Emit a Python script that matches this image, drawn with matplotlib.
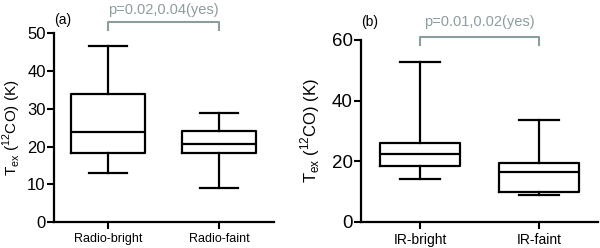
import matplotlib
matplotlib.use("Agg")
import matplotlib.pyplot as plt

plt.rcParams['font.family'] = ['Liberation Sans', 'DejaVu Sans']

# Panel (a)
cats_a = ["Radio-bright", "Radio-faint"]
whislo_a = [12.9, 9.0]
q1_a = [18.4, 18.4]
med_a = [23.8, 20.7]
q3_a = [33.9, 24.1]
whishi_a = [46.6, 29.0]
ptext_a = "p=0.02,0.04(yes)"

# Panel (b)
cats_b = ["IR-bright", "IR-faint"]
whislo_b = [14.2, 8.9]
q1_b = [18.5, 9.8]
med_b = [22.2, 16.4]
q3_b = [26.1, 19.5]
whishi_b = [52.9, 33.5]
ptext_b = "p=0.01,0.02(yes)"

W, H = 600, 248
fig = plt.figure(figsize=(W / 100, H / 100), dpi=100)
grey = "#8c9da0"


def make_stats(cats, lo, q1, med, q3, hi):
    return [dict(label=c, whislo=a, q1=b, med=m, q3=d, whishi=e, fliers=[])
            for c, a, b, m, d, e in zip(cats, lo, q1, med, q3, hi)]


def panel(left_px, right_px, top_px, bot_px, xl, yl, yticks, stats, cats,
          ptext, tag, tickfs, xfs, labfs, bracket_y, leg, text_y, tag_y, labx):
    ax = fig.add_axes([left_px / W, 1 - bot_px / H, (right_px - left_px) / W,
                       (bot_px - top_px) / H])
    lw = 1.6
    ax.bxp(stats, positions=[1, 2], widths=0.67, capwidths=0.34,
           showfliers=False, patch_artist=False,
           boxprops=dict(color="black", linewidth=lw),
           whiskerprops=dict(color="black", linewidth=lw),
           capprops=dict(color="black", linewidth=lw),
           medianprops=dict(color="black", linewidth=lw))
    ax.set_xlim(*xl)
    ax.set_ylim(*yl)
    ax.set_yticks(yticks)
    ax.set_xticks([1, 2])
    ax.set_xticklabels(cats, fontsize=xfs)
    ax.tick_params(axis='y', labelsize=tickfs, width=1.5, length=5, pad=1)
    ax.tick_params(axis='x', width=1.5, length=5, pad=3)
    ax.spines['top'].set_visible(False)
    ax.spines['right'].set_visible(False)
    for s in ('left', 'bottom'):
        ax.spines[s].set_linewidth(1.6)
    ax.set_ylabel(r"T$_{\mathregular{ex}}$ ($^{\mathregular{12}}$CO) (K)", fontsize=labfs)
    ax.yaxis.set_label_coords(labx, 0.5)
    ax.plot([1, 1, 2, 2], [bracket_y - leg, bracket_y, bracket_y, bracket_y - leg],
            color=grey, linewidth=1.5, clip_on=False)
    ax.text(1.5, text_y, ptext, color=grey, fontsize=10.5, ha='center', va='center')
    ax.text(xl[0], tag_y, tag, fontsize=10, ha='left', va='center')
    return ax


panel(54, 274, 33.5, 222, (0.514, 2.495), (0, 50), [0, 10, 20, 30, 40, 50],
      make_stats(cats_a, whislo_a, q1_a, med_a, q3_a, whishi_a), cats_a,
      ptext_a, "(a)", 12, 9, 11, 53.1, 2.2, 56.2, 53.6, -0.14)

panel(361, 598, 40, 221.7, (0.504, 2.496), (0, 60), [0, 20, 40, 60],
      make_stats(cats_b, whislo_b, q1_b, med_b, q3_b, whishi_b), cats_b,
      ptext_b, "(b)", 13.5, 10, 12, 61.0, 2.7, 66.0, 66.0, -0.165)

fig.savefig("out.png", dpi=100)
